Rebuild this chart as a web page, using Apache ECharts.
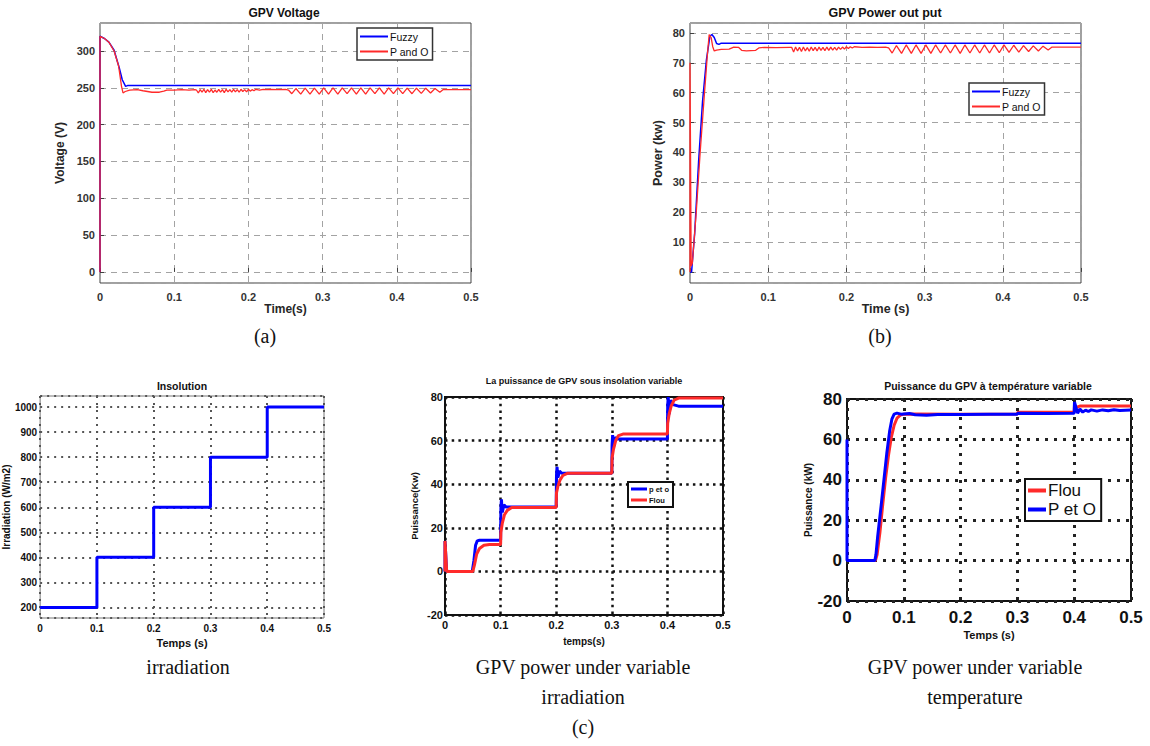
<!DOCTYPE html>
<html><head><meta charset="utf-8">
<script src="https://cdn.jsdelivr.net/npm/echarts@6/dist/echarts.min.js"></script>
<style>html,body{margin:0;padding:0;background:#fff;}#c{width:1150px;height:746px;}</style>
</head><body><div id="c"></div>
<script>
// ---------------- DATA ----------------
// (a) GPV Voltage [time (s), voltage (V)]
const voltageFuzzy = [[0,0],[0,320],[0.006,317],[0.012,312],[0.019,301],[0.026,277],[0.030,261],[0.0345,252],[0.037,253],[0.5,253]];
const voltagePandO = [[0,0],[0,320],[0.006,317],[0.012,312],[0.019,300],[0.025,280],[0.029,252],[0.031,243],[0.034,245],[0.040,247],[0.050,247.5],[0.058,246],[0.064,245],[0.070,244],[0.080,244],[0.086,245.5],[0.090,247],[0.100,247],[0.110,247.5],[0.120,247],[0.128,247.5],
 [0.1300,247],[0.1325,243],[0.1350,247.5],[0.1375,244],[0.1400,248],[0.1425,243.5],[0.1450,247.5],[0.1475,244],[0.1500,248],[0.1525,243.5],[0.1550,247],[0.1575,244],[0.1600,248],[0.1625,244],[0.1650,247.5],[0.1675,243.5],[0.1700,248],[0.1725,244.5],[0.1750,247.5],[0.1775,244],[0.1800,248],[0.1825,244.5],[0.1850,247.5],[0.1875,244],[0.1900,248],[0.1925,245],[0.1950,247.5],[0.1975,244.5],[0.2000,248],[0.2025,245.5],[0.2050,247.5],[0.2075,246],[0.2100,248],[0.2150,247],[0.2200,248],[0.2250,247.5],[0.2300,248],[0.2400,247.5],[0.2500,248],
 [0.254,247],[0.2585,242],[0.264,249],[0.2705,241.5],[0.2765,249.5],[0.283,241.5],[0.289,249.5],[0.2955,241.5],[0.3015,250],[0.308,241.5],[0.314,250],[0.3205,241.5],[0.3265,250],[0.333,242],[0.339,250],[0.3455,241.5],[0.3515,250],[0.358,241.5],[0.364,250],[0.3705,242],[0.3765,250],[0.383,241.5],[0.389,250],[0.3955,242],[0.4015,250],[0.408,242],[0.414,249.5],[0.4205,242],[0.4265,249.5],[0.433,242.5],[0.439,249.5],[0.4455,243],[0.4515,249],[0.458,244],[0.463,248],[0.47,247.5],[0.5,247.5]];

// (b) GPV Power out put [time (s), power (kW)]
const powerFuzzy = [[0,0],[0.002,0],[0.006,13],[0.011,37],[0.016,57],[0.021,71],[0.0255,79],[0.028,79.5],[0.031,78.5],[0.034,76.5],[0.037,76.2],[0.040,76.6],[0.5,76.6]];
const powerPandO = [[0,0],[0,70],[0.0015,2],[0.003,3],[0.008,20],[0.013,40],[0.018,58],[0.022,72],[0.0245,79.5],[0.027,78.5],[0.029,75.5],[0.031,74],[0.034,74.3],[0.040,74.5],[0.050,74.6],[0.056,75.3],[0.062,75.2],[0.066,74.2],[0.072,74],[0.084,74.2],[0.088,75],[0.095,75.2],[0.110,75.1],[0.128,75.2],
 [0.130,75.2],[0.1325,73.6],[0.135,75.3],[0.1375,74],[0.14,75.2],[0.1425,73.8],[0.145,75.3],[0.1475,74],[0.15,75.1],[0.1525,73.9],[0.155,75.3],[0.1575,74.1],[0.16,75.2],[0.1625,74],[0.165,75.3],[0.1675,74.2],[0.17,75.2],[0.1725,74.1],[0.175,75.3],[0.1775,74.2],[0.18,75.3],[0.1825,74.3],[0.185,75.2],[0.1875,74.3],[0.19,75.3],[0.1925,74.5],[0.195,75.3],[0.1975,74.6],[0.2,75.4],[0.2025,74.8],[0.205,75.4],[0.2075,75],[0.21,75.4],[0.22,75.2],[0.23,75.3],[0.24,75.2],[0.25,75.3],
 [0.254,75],[0.2585,73.3],[0.264,75.8],[0.2705,73.2],[0.2765,76],[0.283,73.2],[0.289,76],[0.2955,73.2],[0.3015,76],[0.308,73.2],[0.314,76],[0.3205,73.3],[0.3265,76],[0.333,73.3],[0.339,76],[0.3455,73.2],[0.3515,76],[0.358,73.3],[0.364,76],[0.3705,73.3],[0.3765,76],[0.383,73.3],[0.389,76],[0.3955,73.4],[0.4015,76],[0.408,73.5],[0.414,75.9],[0.4205,73.6],[0.4265,75.8],[0.433,73.8],[0.439,75.7],[0.4455,74],[0.4515,75.6],[0.458,74.3],[0.463,75.3],[0.5,75.3]];

// (c) Insolution step profile
const insolationTime = [0, 0.1, 0.2, 0.3, 0.4, 0.5];
const insolationValue = [200, 400, 600, 800, 1000, 1000];

// (c) GPV power under variable irradiation
const irrPetO = [[0,0],[0,14],[0.003,0],[0.049,0],[0.052,5],[0.055,12],[0.058,14],[0.062,14.3],[0.1,14.3],[0.1005,29],[0.1015,33],[0.103,27],[0.106,30.5],[0.11,29.5],[0.2,29.5],[0.2005,44],[0.2015,48],[0.203,43],[0.206,46],[0.21,45],[0.3,45],[0.3005,58],[0.3015,62.5],[0.303,57],[0.306,61.5],[0.31,60.7],[0.4,60.7],[0.4005,76],[0.4015,80],[0.403,72],[0.406,78.5],[0.41,76.5],[0.42,75.8],[0.5,75.8]];
const irrFlou = [[0,0],[0,14],[0.003,0],[0.05,0],[0.053,3],[0.057,8],[0.062,10.5],[0.07,12],[0.08,12.3],[0.1,12.3],[0.1005,18],[0.103,22],[0.107,26],[0.112,28],[0.12,29.3],[0.2,29.3],[0.2005,36],[0.203,39],[0.207,42],[0.212,44],[0.22,45],[0.3,45],[0.3005,52],[0.303,56],[0.307,60],[0.312,62.3],[0.32,63],[0.4,63],[0.4005,68],[0.403,72],[0.407,76],[0.412,78.5],[0.42,79.5],[0.5,79.5]];

// (c) GPV power under variable temperature
const tempFlou = [[0,0],[0.05,0],[0.053,3],[0.058,14],[0.063,28],[0.068,41],[0.073,52],[0.078,61],[0.083,67],[0.088,70.5],[0.094,72],[0.1,72.5],[0.12,72.6],[0.2,72.5],[0.3,72.6],[0.3005,73.5],[0.4,73.6],[0.4005,77],[0.405,76],[0.41,76.5],[0.5,76.5]];
const tempPetO = [[0,60],[0,0],[0.049,0],[0.051,3],[0.054,12],[0.06,27],[0.065,40],[0.07,53],[0.075,64],[0.079,70],[0.083,72.5],[0.088,73],[0.095,72.5],[0.11,72.8],[0.12,72.2],[0.14,72],[0.16,72.3],[0.2,72.3],[0.25,72.5],[0.3,72.5],[0.3005,73],[0.35,72.8],[0.4,73],[0.4005,78.5],[0.403,76],[0.406,73],[0.41,75],[0.415,73.5],[0.42,74.5],[0.425,73.8],[0.43,74.6],[0.44,74],[0.45,74.6],[0.46,74.2],[0.47,74.7],[0.48,74.3],[0.5,74.6]];

// ---------------- CHART ----------------
const FONT = '"Liberation Sans", Arial, sans-serif';
const SERIF = '"Liberation Serif", "Times New Roman", serif';
const chart = echarts.init(document.getElementById('c'), null, {renderer: 'svg', width: 1150, height: 746});

function gridBox(left, top, width, height, borderColor, borderWidth) {
  return {left, top, width, height, show: true, backgroundColor: '#fff', borderColor, borderWidth, containLabel: false};
}
const dashedGrid = {show: true, lineStyle: {color: '#a3a3a3', width: 1, type: [6, 5]}};
function dotted(color, w, dash) { return {show: true, lineStyle: {color, width: w, type: dash}}; }
const plain = v => String(v);
function lbl(size, color, margin, extra) {
  return Object.assign({fontFamily: FONT, fontSize: size, fontWeight: 'bold', color, margin, formatter: plain}, extra || {});
}
function nameStyle(size, color) { return {fontFamily: FONT, fontSize: size, fontWeight: 'bold', color}; }

const timeAxisBase = {type: 'value', min: 0, max: 0.5, interval: 0.1, axisLine: {show: false}};

const xAxes = [
  Object.assign({}, timeAxisBase, {gridIndex: 0, axisTick: {show: true, inside: true, length: 4, lineStyle: {color: '#404040'}},
    axisLabel: lbl(11, '#333', 8), splitLine: dashedGrid, name: 'Time(s)', nameLocation: 'middle', nameGap: 19, nameTextStyle: nameStyle(12, '#262626')}),
  Object.assign({}, timeAxisBase, {gridIndex: 1, axisTick: {show: true, inside: true, length: 4, lineStyle: {color: '#404040'}},
    axisLabel: lbl(11, '#333', 8), splitLine: dashedGrid, name: 'Time (s)', nameLocation: 'middle', nameGap: 16, nameTextStyle: nameStyle(12.5, '#262626')}),
  Object.assign({}, timeAxisBase, {gridIndex: 2, axisTick: {show: false},
    axisLabel: lbl(10, '#111', 5), splitLine: dotted('#555', 2, [2, 5]), name: 'Temps (s)', nameLocation: 'middle', nameGap: 19, nameTextStyle: nameStyle(11, '#111')}),
  Object.assign({}, timeAxisBase, {gridIndex: 3, axisTick: {show: false},
    axisLabel: lbl(11, '#111', 4), splitLine: dotted('#111', 2.5, [2.5, 4.2]), name: 'temps(s)', nameLocation: 'middle', nameGap: 21, nameTextStyle: nameStyle(10, '#111')}),
  Object.assign({}, timeAxisBase, {gridIndex: 4, axisTick: {show: false},
    axisLabel: lbl(17, '#111', 8), splitLine: dotted('#222', 3, [3, 6]), name: 'Temps (s)', nameLocation: 'middle', nameGap: 28, nameTextStyle: nameStyle(11, '#111')})
];

const yAxes = [
  {gridIndex: 0, type: 'value', min: -15, max: 338, splitNumber: 7, axisLine: {show: false},
    axisTick: {show: true, inside: true, length: 4, lineStyle: {color: '#404040'}},
    axisLabel: lbl(11, '#333', 5, {showMinLabel: false, showMaxLabel: false}), splitLine: dashedGrid,
    name: 'Voltage (V)', nameLocation: 'middle', nameGap: 34, nameTextStyle: nameStyle(12, '#262626')},
  {gridIndex: 1, type: 'value', min: -3.7, max: 83.35, splitNumber: 8, axisLine: {show: false},
    axisTick: {show: true, inside: true, length: 4, lineStyle: {color: '#404040'}},
    axisLabel: lbl(11, '#333', 5, {showMinLabel: false, showMaxLabel: false}), splitLine: dashedGrid,
    name: 'Power (kw)', nameLocation: 'middle', nameGap: 26, nameTextStyle: nameStyle(12.5, '#262626')},
  {gridIndex: 2, type: 'value', min: 158, max: 1044, splitNumber: 8, axisLine: {show: false}, axisTick: {show: false},
    axisLabel: lbl(10, '#111', 3, {showMinLabel: false, showMaxLabel: false}), splitLine: dotted('#555', 2, [2, 5]),
    name: 'Irradiation (W/m2)', nameLocation: 'middle', nameGap: 23, nameTextStyle: nameStyle(10, '#111')},
  {gridIndex: 3, type: 'value', min: -20, max: 80, interval: 20, axisLine: {show: false}, axisTick: {show: false},
    axisLabel: lbl(11, '#111', 2), splitLine: dotted('#111', 2.5, [2.5, 4.2]),
    name: 'Puissance(Kw)', nameLocation: 'middle', nameGap: 26, nameTextStyle: nameStyle(9.5, '#111')},
  {gridIndex: 4, type: 'value', min: -20, max: 80, interval: 20, axisLine: {show: false}, axisTick: {show: false},
    axisLabel: lbl(17, '#111', 5), splitLine: dotted('#222', 3, [3, 6]),
    name: 'Puissance (kW)', nameLocation: 'middle', nameGap: 33, nameTextStyle: nameStyle(10, '#111')}
];

function lineSeries(name, data, idx, color, width, extra) {
  return Object.assign({name, type: 'line', data, xAxisIndex: idx, yAxisIndex: idx, color,
    showSymbol: false, symbol: 'none', lineStyle: {color, width}, animation: false, silent: true}, extra || {});
}

const BLUE = '#0000ff', RED = '#ff2a2a';
const insolationData = insolationTime.map((t, i) => [t, insolationValue[i]]);

const series = [
  lineSeries('Fuzzy', voltageFuzzy, 0, BLUE, 1.5),
  lineSeries('P and O', voltagePandO, 0, RED, 1.3),
  lineSeries('Fuzzy', powerFuzzy, 1, BLUE, 1.5),
  lineSeries('P and O', powerPandO, 1, RED, 1.3),
  lineSeries('Insolation', insolationData, 2, BLUE, 3, {step: 'end'}),
  lineSeries('p et o', irrPetO, 3, BLUE, 3),
  lineSeries('Flou', irrFlou, 3, RED, 3),
  lineSeries('Flou', tempFlou, 4, RED, 3),
  lineSeries('P et O', tempPetO, 4, BLUE, 3)
];

function legendBox(data, left, top, o) {
  return {data, left, top, orient: 'vertical', selectedMode: false, icon: 'rect',
    itemWidth: o.iw, itemHeight: o.ih, itemGap: o.gap, padding: o.pad,
    backgroundColor: '#fff', borderColor: o.bc, borderWidth: o.bw, borderRadius: 0,
    textStyle: {fontFamily: FONT, fontSize: o.fs, fontWeight: o.fw, color: '#111', padding: [0, 0, 0, -3]}};
}

const legends = [
  legendBox(['Fuzzy', 'P and O'], 357, 28, {iw: 28, ih: 2, gap: 4, pad: [3, 4, 3, 3], bc: '#333', bw: 1.5, fs: 10.5, fw: 'normal'}),
  legendBox(['Fuzzy', 'P and O'], 969, 83, {iw: 28, ih: 2, gap: 4, pad: [3, 4, 3, 3], bc: '#333', bw: 1.5, fs: 10.5, fw: 'normal'}),
  legendBox(['p et o', 'Flou'], 628, 482, {iw: 16, ih: 3, gap: 3, pad: [3, 4, 3, 3], bc: '#111', bw: 2, fs: 7.5, fw: 'bold'}),
  legendBox(['Flou', 'P et O'], 1025, 479, {iw: 18, ih: 4, gap: 2, pad: [3, 5, 3, 3], bc: '#111', bw: 2, fs: 17, fw: 'normal'})
];

function txt(text, x, y, font) {
  return {type: 'text', x, y, silent: true,
    style: {text, font, fill: '#111', textAlign: 'center', textVerticalAlign: 'middle', verticalAlign: 'middle'}};
}

const graphics = [
  txt('GPV Voltage', 284, 13, 'bold 12px ' + FONT),
  txt('GPV Power out put', 885, 13, 'bold 12.5px ' + FONT),
  txt('Insolution', 182, 386, 'bold 10.5px ' + FONT),
  txt('La puissance de GPV sous insolation variable', 584, 381, 'bold 9px ' + FONT),
  txt('Puissance du GPV à température variable', 988, 386, 'bold 10.5px ' + FONT),
  txt('(a)', 265, 336, '20px ' + SERIF),
  txt('(b)', 880, 336, '20px ' + SERIF),
  txt('irradiation', 188, 667, '20px ' + SERIF),
  txt('GPV power under variable', 583, 667, '20px ' + SERIF),
  txt('irradiation', 583, 697, '20px ' + SERIF),
  txt('(c)', 583, 727, '20px ' + SERIF),
  txt('GPV power under variable', 975, 667, '20px ' + SERIF),
  txt('temperature', 975, 697, '20px ' + SERIF)
];

chart.setOption({
  backgroundColor: '#fff',
  animation: false,
  grid: [
    gridBox(100, 23, 371, 260, '#404040', 1),
    gridBox(690, 23, 391, 260, '#404040', 1),
    gridBox(40, 396, 284, 222, '#7a7a7a', 1),
    gridBox(445, 397, 278, 218, '#111', 2),
    gridBox(847, 399, 284, 202, '#111', 2)
  ],
  xAxis: xAxes,
  yAxis: yAxes,
  legend: legends,
  series,
  graphic: graphics
});
</script></body></html>
